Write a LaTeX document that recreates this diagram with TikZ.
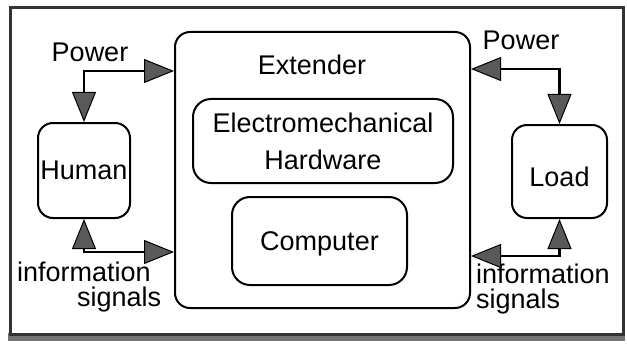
\documentclass[tikz,border=0pt]{standalone}
\usepackage{fontspec}
\setmainfont{Liberation Sans}
\usetikzlibrary{arrows.meta}
\newcommand\mytightls{\lineskiplimit=-30pt\relax}
\begin{document}
\begin{tikzpicture}[x=1pt,y=-1pt,
  box/.style={draw, line width=2pt, rounded corners=15pt, inner sep=0pt, font=\fontsize{27}{32}\selectfont},
  lbl/.style={inner sep=0pt, font=\fontsize{27}{32}\selectfont},
  conn/.style={line width=2.4pt, {Triangle[length=30pt,width=24pt,fill=black!65,line width=1pt]}-{Triangle[length=30pt,width=24pt,fill=black!65,line width=1pt]}}
]
\useasboundingbox (0,0) rectangle (627,345);
% outer frame
\fill[black!55] (8,333) rectangle (625,341);
\draw[line width=3pt, black!80] (10,8) rectangle (623,334);

\node[box, rounded corners=15pt, minimum width=295pt, minimum height=276pt] (ext) at (322.5,170) {};
\node[lbl] (extlbl) at (312,65) {Extender};
\node[box, rounded corners=18pt, minimum width=260pt, minimum height=84pt, align=center, font={\fontsize{27}{37}\selectfont}] (em) at (323,141) {Electromechanical\\Hardware};
\node[box, rounded corners=18pt, minimum width=175pt, minimum height=88pt, text depth=0pt] (comp) at (319.5,241) {Computer};
\node[box, minimum width=92pt, minimum height=95pt] (human) at (84,170.5) {Human};
\node[box, minimum width=95pt, minimum height=93pt, text height=30pt, text depth=0pt] (load) at (559.5,171.5) {Load};

\node[lbl] (pwrL) at (90,52) {Power};
\node[lbl] (pwrR) at (521,40) {Power};
\node[lbl, anchor=north west, align=left, font={\fontsize{27}{25}\selectfont\mytightls}] (infL) at (17,262) {information\\\hspace*{60pt}signals};
\node[lbl, anchor=north west, align=left, font={\fontsize{27}{25}\selectfont\mytightls}] (infR) at (476,264) {information\\signals};

\path (ext.north west) ++(0,40) coordinate (eL1);
\path (ext.north west) ++(0,221) coordinate (eL2);
\path (ext.north east) ++(0,38) coordinate (eR1);
\path (ext.north east) ++(0,225) coordinate (eR2);

\draw[conn] (human.north) |- (eL1);
\draw[conn] (human.south) |- (eL2);
\draw[conn] (load.north) |- (eR1);
\draw[conn] (load.south) |- (eR2);
\end{tikzpicture}
\end{document}
